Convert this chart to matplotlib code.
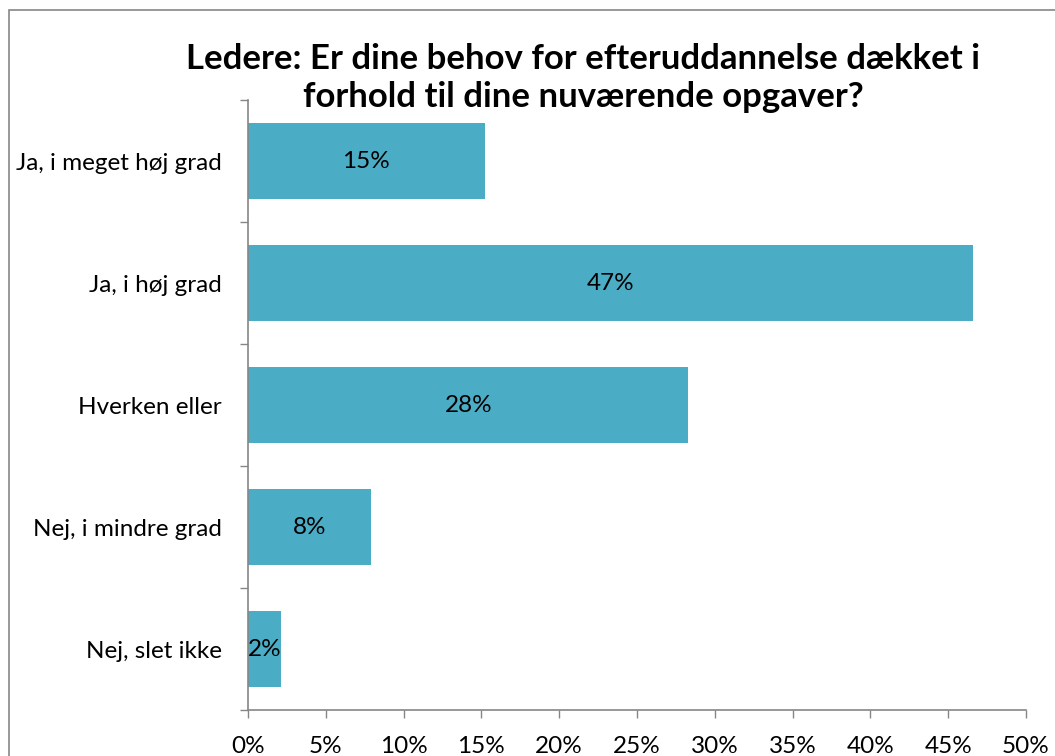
import matplotlib
matplotlib.use("Agg")
import matplotlib.pyplot as plt
from matplotlib.patches import Rectangle
from matplotlib.ticker import FixedLocator, FuncFormatter

plt.rcParams["font.family"] = ["Lato", "DejaVu Sans"]

categories = ["Ja, i meget høj grad", "Ja, i høj grad", "Hverken eller",
              "Nej, i mindre grad", "Nej, slet ikke"]
values = [15.2, 46.6, 28.3, 7.9, 2.1]
labels = ["15%", "47%", "28%", "8%", "2%"]
title = "Ledere: Er dine behov for efteruddannelse dækket i\nforhold til dine nuværende opgaver?"

bar_color = "#4BACC6"
axis_color = "#868686"

fig = plt.figure(figsize=(10.55, 7.56), dpi=100)
ax = fig.add_axes([0.2351, 0.0608, 0.7374, 0.8069])

ypos = list(range(len(categories)))
ax.barh(ypos, values, height=0.62, color=bar_color, zorder=2)
for y, v, lab in zip(ypos, values, labels):
    ax.text(v / 2, y, lab, ha="center", va="center", fontsize=17.5, color="black")

ax.set_xlim(0, 50)
ax.set_ylim(len(categories) - 0.5, -0.5)
ax.set_xticks(range(0, 51, 5))
ax.xaxis.set_major_formatter(FuncFormatter(lambda x, p: f"{int(x)}%"))
ax.set_yticks(ypos)
ax.set_yticklabels(categories)
ax.yaxis.set_minor_locator(FixedLocator([i - 0.5 for i in range(len(categories) + 1)]))

ax.tick_params(axis="y", which="major", length=0, pad=19, labelsize=17.5)
ax.tick_params(axis="y", which="minor", length=6, width=1, color=axis_color)
ax.tick_params(axis="x", length=6, width=1, color=axis_color, pad=13, labelsize=17.5)

for s in ["top", "right"]:
    ax.spines[s].set_visible(False)
for s in ["left", "bottom"]:
    ax.spines[s].set_color(axis_color)
    ax.spines[s].set_linewidth(1.2)

fig.text(0.553, 0.897, title, ha="center", va="center", fontsize=25,
         fontweight="bold", linespacing=1.25)

# outer chart frame (cut off at right and bottom)
fig.patches.append(Rectangle((9 / 1055, -0.1), 1.2, 1 - 10 / 756 + 0.1,
                             transform=fig.transFigure, fill=False,
                             edgecolor=axis_color, linewidth=1.2))

fig.savefig("out.png", dpi=100)
